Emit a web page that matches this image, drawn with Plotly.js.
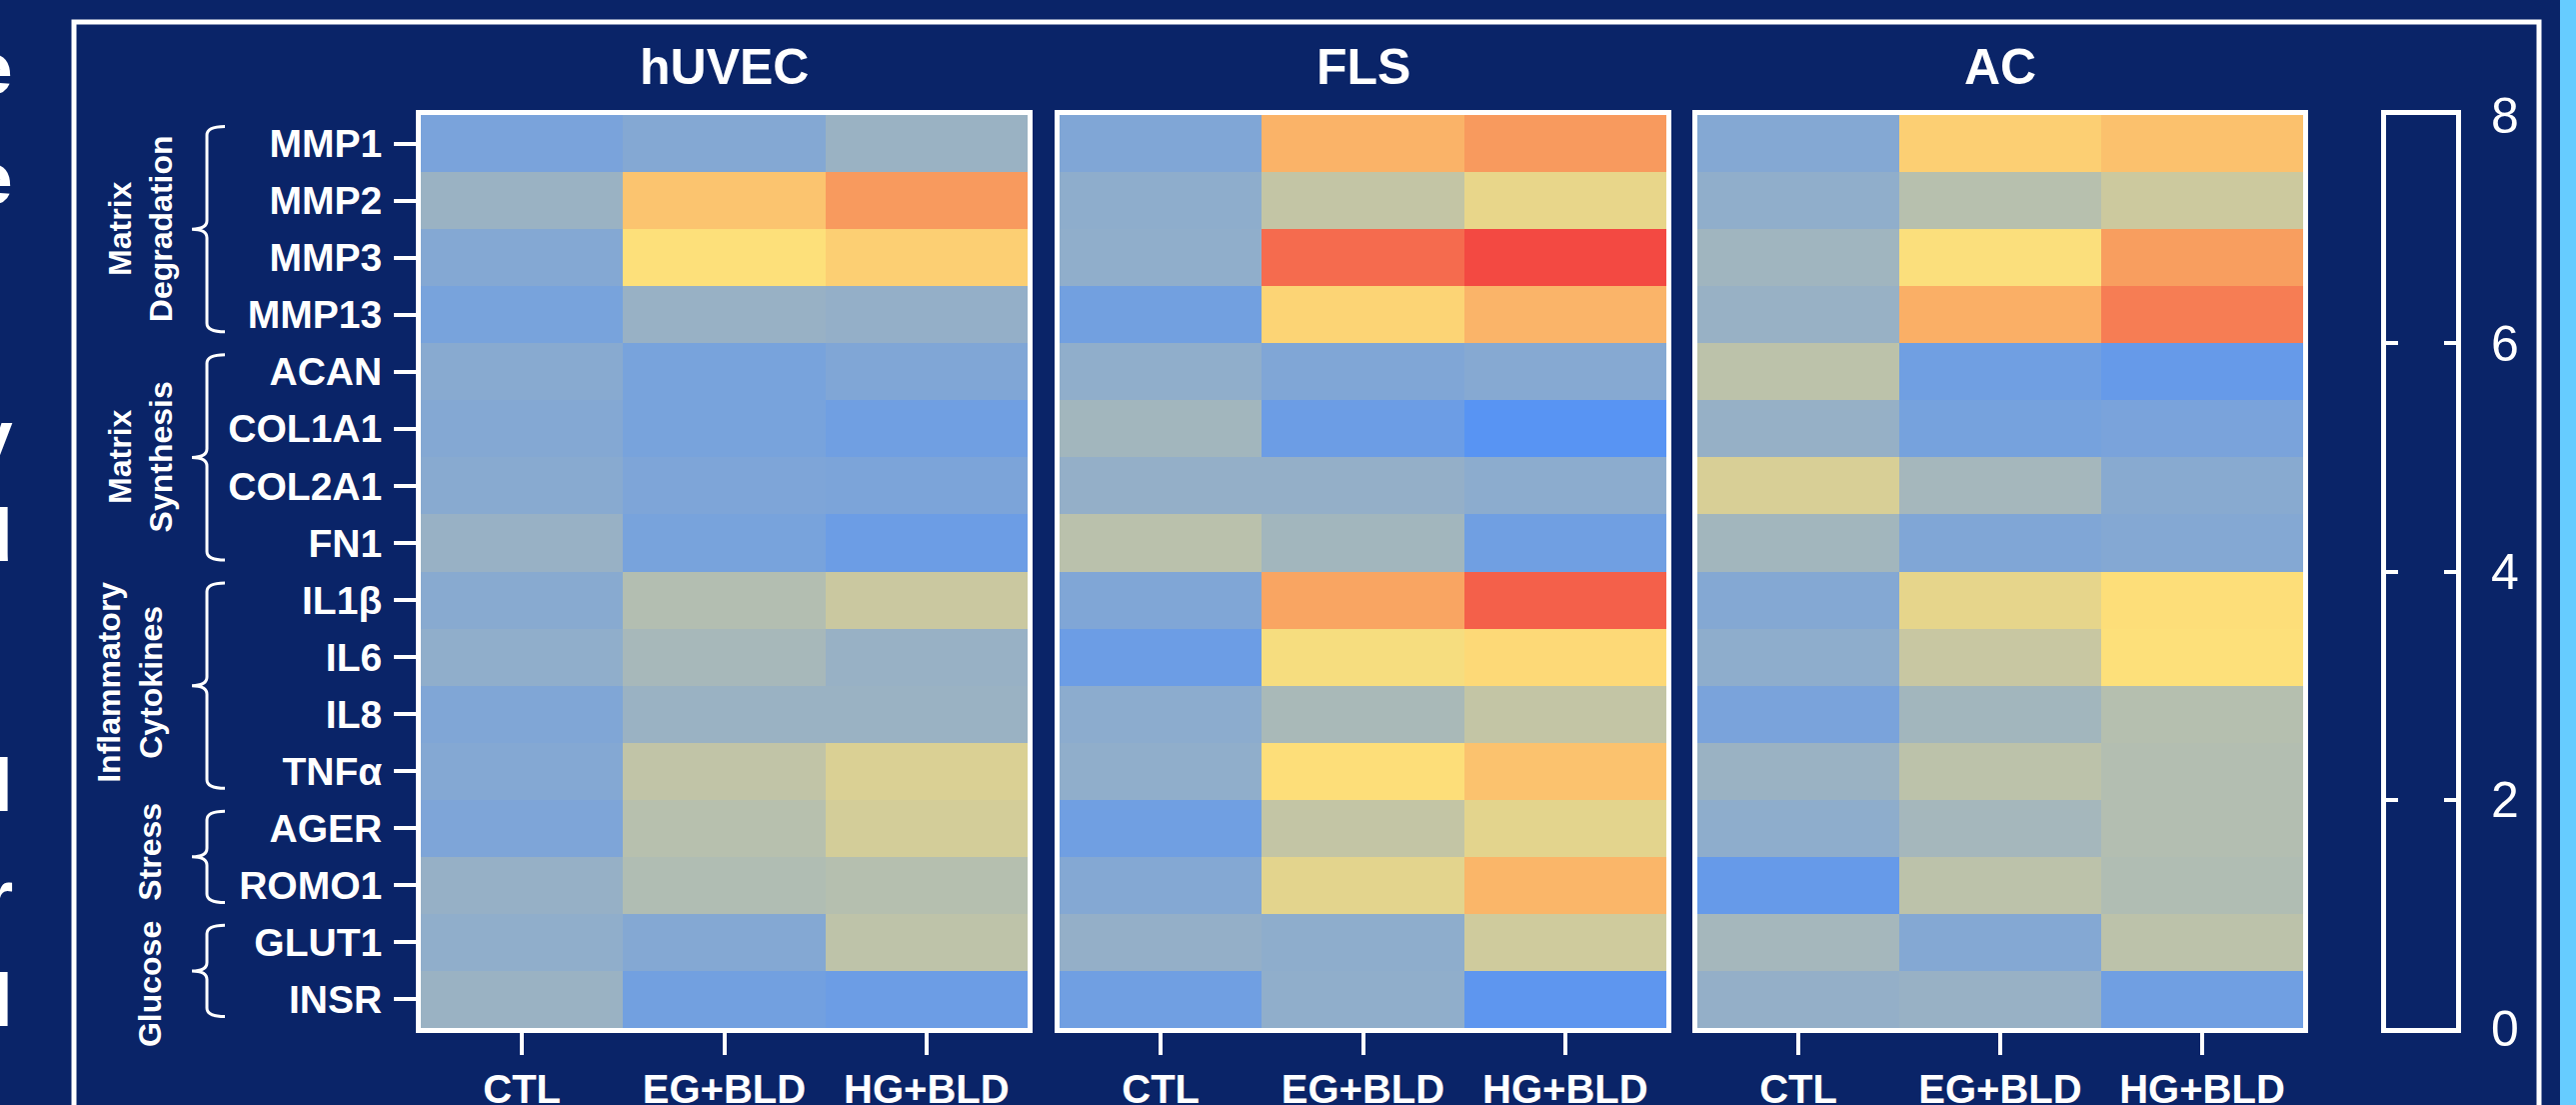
<!DOCTYPE html>
<html><head><meta charset="utf-8">
<script src="https://cdn.plot.ly/plotly-3.0.1.min.js"></script>
<style>html,body{margin:0;padding:0;background:#0a2468;overflow:hidden}</style>
</head><body><div id="chart" style="width:2577px;height:1105px"></div>
<script>
// ---------- data ----------
const genes = ['MMP1','MMP2','MMP3','MMP13','ACAN','COL1A1','COL2A1','FN1','IL1β','IL6','IL8','TNFα','AGER','ROMO1','GLUT1','INSR'];
const conditions = ['CTL','EG+BLD','HG+BLD'];
const cellTypes = ['hUVEC','FLS','AC'];
const hUVEC = [
  [1.05,1.3,1.85],[1.85,4.8,6.0],[1.3,4.0,4.5],[1.0,1.8,1.7],
  [1.4,1.0,1.2],[1.3,1.0,0.8],[1.4,1.15,1.1],[1.8,1.0,0.7],
  [1.4,2.4,2.9],[1.6,2.15,1.8],[1.2,1.85,1.85],[1.3,2.7,3.25],
  [1.15,2.5,3.1],[1.75,2.35,2.45],[1.6,1.3,2.65],[1.85,0.85,0.7]
];
const FLS = [
  [1.2,5.3,6.0],[1.55,2.75,3.55],[1.6,7.05,7.8],[0.85,4.35,5.25],
  [1.6,1.2,1.35],[2.05,0.7,0.2],[1.7,1.7,1.5],[2.55,2.05,0.8],
  [1.2,5.7,7.3],[0.7,3.85,4.2],[1.5,2.2,2.75],[1.6,4.05,4.85],
  [0.8,2.75,3.45],[1.3,3.45,5.2],[1.7,1.55,3.0],[0.8,1.6,0.35]
];
const AC = [
  [1.3,4.5,4.9],[1.6,2.5,2.95],[2.0,3.95,5.9],[1.8,5.4,6.65],
  [2.6,0.8,0.55],[1.75,0.95,1.05],[3.2,2.1,1.4],[2.05,1.2,1.3],
  [1.3,3.5,4.05],[1.55,2.85,4.0],[1.05,2.05,2.45],[1.85,2.6,2.4],
  [1.55,2.1,2.4],[0.55,2.6,2.35],[2.1,1.3,2.6],[1.7,1.8,0.8]
];
const groupLabels = ['Matrix<br>Degradation','Matrix<br>Synthesis','Inflammatory<br>Cytokines','Stress','Glucose'];
const groupFirst = ['MMP1','ACAN','IL1β','AGER','GLUT1'];
const groupLast  = ['MMP13','FN1','TNFα','ROMO1','INSR'];
const colorbarTicks = [0,2,4,6,8];
const edgeLetters = ['e','e','y','d','l','r','l'];

// ---------- style ----------
const W = 2577, H = 1105;
const NAVY = '#0a2468';
const FONT = 'Liberation Sans, Arial, sans-serif';
const px = v => v / W;
const py = v => 1 - v / H;
const yDom = [py(1028), py(115)];
const xDoms = [[px(421), px(1028)], [px(1060), px(1667)], [px(1698), px(2304)]];
const colorscale = [[0,'#5090F9'],[0.25,'#A0B5BF'],[0.5,'#FDE07A'],[0.75,'#F89A5E'],[1,'#F2403F']];
const matrices = [hUVEC, FLS, AC];

const traces = matrices.map((m, i) => ({
  type: 'heatmap', z: m, x: conditions, y: genes,
  xaxis: i === 0 ? 'x' : 'x' + (i + 1), yaxis: i === 0 ? 'y' : 'y' + (i + 1),
  colorscale: colorscale, zmin: 0, zmax: 8, showscale: false, xgap: 0, ygap: 0,
  hovertemplate: cellTypes[i] + ' %{y} %{x}: %{z}<extra></extra>'
}));
traces.push({type: 'scatter', x: [], y: [], xaxis: 'x4', yaxis: 'y4', showlegend: false, hoverinfo: 'skip'});

const layout = {
  width: W, height: H, autosize: false,
  margin: {l: 0, r: 0, t: 0, b: 0, pad: 0},
  paper_bgcolor: NAVY, plot_bgcolor: NAVY,
  showlegend: false,
  font: {family: FONT, color: '#ffffff'},
  annotations: [], shapes: []
};

const idx = g => genes.indexOf(g);
for (let i = 0; i < 3; i++) {
  const s = i === 0 ? '' : String(i + 1);
  layout['xaxis' + s] = {
    domain: xDoms[i], anchor: 'y' + s, type: 'category',
    range: [-0.5, conditions.length - 0.5],
    showline: true, mirror: true, linewidth: 5, linecolor: '#ffffff',
    ticks: 'outside', ticklen: 22, tickwidth: 4, tickcolor: '#ffffff',
    tickfont: {family: FONT, size: 40, weight: 'bold', color: '#ffffff'},
    ticklabelstandoff: 0,
    showgrid: false, zeroline: false, fixedrange: true
  };
  layout['yaxis' + s] = {
    domain: yDom, anchor: 'x' + s, type: 'category',
    range: [genes.length - 0.5, -0.5],
    showline: true, mirror: true, linewidth: 5, linecolor: '#ffffff',
    ticks: i === 0 ? 'outside' : '', ticklen: 22, tickwidth: 4, tickcolor: '#ffffff',
    showticklabels: i === 0,
    tickfont: {family: FONT, size: 39, weight: 'bold', color: '#ffffff'},
    ticklabelstandoff: 4,
    showgrid: false, zeroline: false, fixedrange: true
  };
  layout.annotations.push({
    text: cellTypes[i], xref: 'x' + s + ' domain', x: 0.5, xanchor: 'center',
    yref: 'paper', y: py(67), yanchor: 'middle', showarrow: false,
    font: {family: FONT, size: 50, weight: 'bold', color: '#ffffff'}
  });
}
// colorbar-like scale box
layout.xaxis4 = {
  domain: [px(2387), px(2457)], anchor: 'y4', range: [0, 1],
  showline: true, mirror: true, linewidth: 5, linecolor: '#ffffff',
  ticks: '', showticklabels: false, showgrid: false, zeroline: false, fixedrange: true
};
layout.yaxis4 = {
  domain: yDom, anchor: 'x4', range: [0, 8], side: 'right',
  showline: true, mirror: 'ticks', linewidth: 5, linecolor: '#ffffff',
  ticks: 'inside', ticklen: 12, tickwidth: 4, tickcolor: '#ffffff',
  tickvals: colorbarTicks, ticktext: colorbarTicks.map(String),
  tickfont: {family: FONT, size: 50, color: '#ffffff'},
  ticklabelstandoff: 20,
  showgrid: false, zeroline: false, fixedrange: true
};

// group braces and labels
const xv = px(207), xh = px(225), xn = px(192);
const groupX = [141, 141, 130, 150, 150];
const groupShift = [0, 0, -0.05, -0.09, 0.23];   // label offset along rows
groupLabels.forEach((lab, k) => {
  const a = idx(groupFirst[k]) - 0.3, b = idx(groupLast[k]) + 0.3, m = (a + b) / 2, r = 0.15;
  const path = `M ${xh},${a} Q ${xv},${a} ${xv},${a + r} L ${xv},${m - r} Q ${xv},${m} ${xn},${m} Q ${xv},${m} ${xv},${m + r} L ${xv},${b - r} Q ${xv},${b} ${xh},${b}`;
  layout.shapes.push({type: 'path', xref: 'paper', yref: 'y', path: path, line: {color: '#ffffff', width: 3}});
  layout.annotations.push({
    text: lab, textangle: -90, xref: 'paper', x: px(groupX[k]), xanchor: 'center',
    yref: 'y', y: (idx(groupFirst[k]) + idx(groupLast[k])) / 2 + groupShift[k], yanchor: 'middle',
    showarrow: false, font: {family: FONT, size: 32, weight: 'bold', color: '#ffffff'}
  });
});

// outer frame and right strip
layout.shapes.push({type: 'rect', xref: 'paper', yref: 'paper', x0: px(74), x1: px(2540), y0: py(22), y1: -0.1,
  line: {color: '#ffffff', width: 5}, fillcolor: 'rgba(0,0,0,0)', layer: 'below'});
layout.shapes.push({type: 'rect', xref: 'paper', yref: 'paper', x0: px(2561), x1: 1.02, y0: -0.1, y1: 1.1,
  line: {width: 0}, fillcolor: '#66CCFF'});

// cropped letters at the left edge
const letterY = [68, 178, 436, 535, 785, 896, 1000];
edgeLetters.forEach((ch, k) => {
  layout.annotations.push({
    text: ch, xref: 'paper', x: px(14), xanchor: 'right', yref: 'paper', y: py(letterY[k]), yanchor: 'middle',
    showarrow: false, borderpad: 0, font: {family: FONT, size: 75, weight: 'bold', color: '#ffffff'}
  });
});

Plotly.newPlot('chart', traces, layout, {displayModeBar: false, staticPlot: true});
</script></body></html>
